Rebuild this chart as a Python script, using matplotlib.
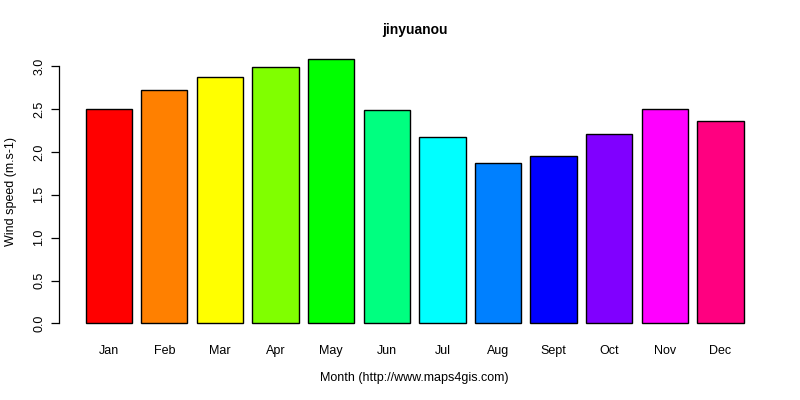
import numpy as np
import matplotlib.pyplot as plt

plt.rcParams['font.family'] = ['Liberation Sans', 'DejaVu Sans']

months = ['Jan', 'Feb', 'Mar', 'Apr', 'May', 'Jun', 'Jul', 'Aug', 'Sept', 'Oct', 'Nov', 'Dec']
wind = [2.50, 2.72, 2.87, 2.99, 3.08, 2.49, 2.18, 1.87, 1.95, 2.21, 2.50, 2.36]
colors = ['#FF0000', '#FF8000', '#FFFF00', '#80FF00', '#00FF00', '#00FF80',
          '#00FFFF', '#0080FF', '#0000FF', '#8000FF', '#FF00FF', '#FF0080']

# R barplot style positions: width 1, space 0.2
x = 0.2 + np.arange(len(months)) * 1.2 + 0.5

fig = plt.figure(figsize=(8, 4), dpi=100)
ax = fig.add_axes([0.074, 0.165, 0.8885, 0.713])
ax.bar(x, wind, width=1.0, color=colors, edgecolor='black', linewidth=1.0)

xmin, xmax = 0.2, x[-1] + 0.5
pad = 0.04 * (xmax - xmin)
ax.set_xlim(xmin - pad, xmax + pad)
ymax = max(wind)
ax.set_ylim(-0.04 * ymax, 1.04 * ymax)

for s in ['top', 'right', 'bottom']:
    ax.spines[s].set_visible(False)
ax.spines['left'].set_bounds(0, 3)
ax.spines['left'].set_linewidth(0.9)

ax.set_yticks(np.arange(0, 3.01, 0.5))
ax.set_yticklabels(['%.1f' % v for v in np.arange(0, 3.01, 0.5)], rotation=90, va='center')
ax.tick_params(axis='y', length=6, width=0.9, labelsize=9, pad=4)
ax.set_xticks(x)
ax.set_xticklabels(months)
ax.tick_params(axis='x', length=0, labelsize=9, pad=8)

ax.set_title('jinyuanou', fontsize=10, fontweight='bold', pad=11)
ax.set_xlabel('Month (http://www.maps4gis.com)', fontsize=9, labelpad=11)
ax.set_ylabel('Wind speed (m.s-1)', fontsize=9, labelpad=12)

plt.savefig('out.png', dpi=100)
